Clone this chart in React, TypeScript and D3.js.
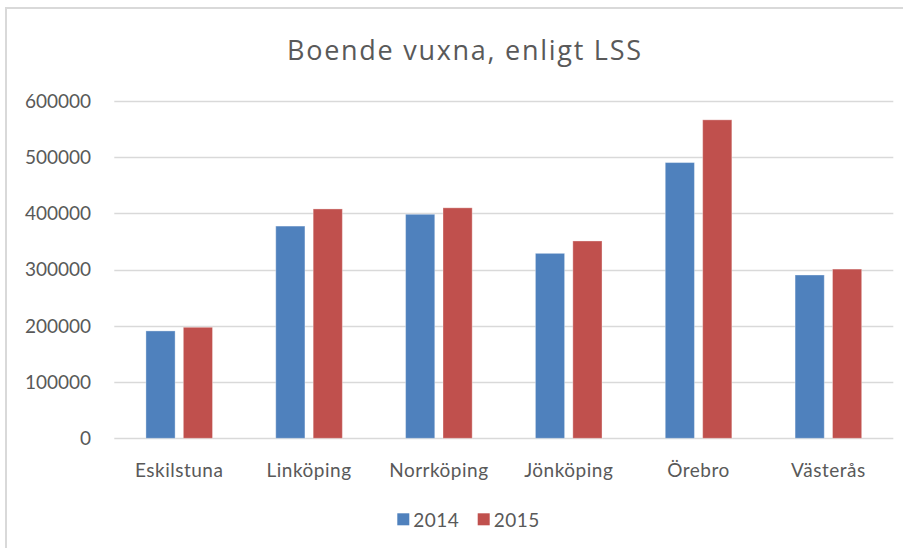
import * as d3 from 'd3';

const cities = ['Eskilstuna', 'Linköping', 'Norrköping', 'Jönköping', 'Örebro', 'Västerås'];
const years = ['2014', '2015'];
const values2014 = [191000, 377500, 398500, 329000, 490500, 290500];
const values2015 = [197500, 408000, 410000, 351000, 566500, 301000];
const yTicks = [0, 100000, 200000, 300000, 400000, 500000, 600000];
const colors = ['#4F81BD', '#C0504D'];

const W = 903;
const H = 548;
const font = 'Lato, "Open Sans", sans-serif';

export default function App() {
  const x0 = d3.scaleBand().domain(cities).range([114.3, 893.3]);
  const y = d3.scaleLinear().domain([0, 600000]).range([438.3, 101]);
  const color = d3.scaleOrdinal<string>().domain(years).range(colors);
  const series = [values2014, values2015];

  return (
    <svg width={W} height={H} style={{ position: 'absolute', left: 0, top: 0, background: '#fff' }}>
      <rect x={6} y={8} width={W + 10} height={H + 10} fill="#fff" stroke="#d9d9d9" strokeWidth={2} />
      <text x={464} y={60} textAnchor="middle" fontFamily='"Open Sans", Lato, sans-serif' fontWeight={400} fontSize={27} fill="#595959"
        textLength={354} lengthAdjust="spacing">
        Boende vuxna, enligt LSS
      </text>

      {yTicks.map(t => (
        <g key={t}>
          <line x1={114.3} x2={893.3} y1={Math.round(y(t)) + 0.5} y2={Math.round(y(t)) + 0.5} stroke="#d9d9d9" strokeWidth={1.3} />
          <text x={91} y={y(t) + 6.8} textAnchor="end" fontFamily={font} fontSize={19} fill="#595959">{t}</text>
        </g>
      ))}

      {cities.map((c, i) => {
        const cx = (x0(c) as number) + x0.bandwidth() / 2;
        const x1 = d3.scaleBand().domain(years).range([cx - 33.3, cx + 33.3]).paddingInner(0.22);
        return (
          <g key={c}>
            {years.map((yr, j) => {
              const v = series[j][i];
              return (
                <rect key={yr} x={x1(yr)} y={y(v)} width={x1.bandwidth()} height={y(0) - y(v)}
                  fill={color(yr)} stroke="#fff" strokeOpacity={0.35} strokeWidth={1} />
              );
            })}
            <text x={cx} y={476.7} textAnchor="middle" fontFamily={font} fontSize={19} letterSpacing={0.5} fill="#595959">{c}</text>
          </g>
        );
      })}

      {years.map((yr, j) => {
        const lx = [397.3, 477.7][j];
        return (
          <g key={yr}>
            <rect x={lx} y={513.3} width={12} height={12} fill={color(yr)} />
            <text x={lx + 16} y={526.7} fontFamily={font} fontSize={19} letterSpacing={0.5} fill="#595959">{yr}</text>
          </g>
        );
      })}
    </svg>
  );
}
